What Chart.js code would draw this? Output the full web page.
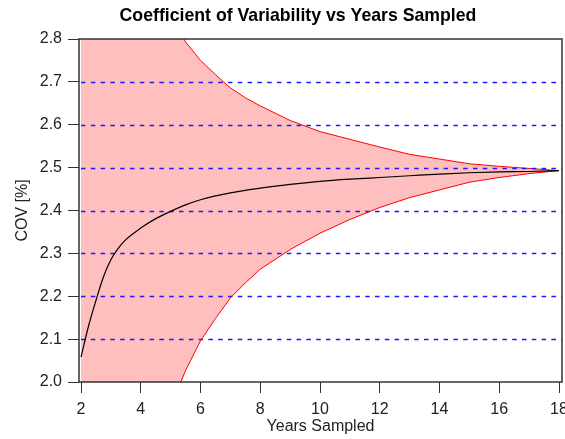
<!DOCTYPE html>
<html>
<head>
<meta charset="utf-8">
<script src="https://cdn.jsdelivr.net/npm/chart.js@4"></script>
<style>
  body { margin: 0; background: #fff; }
</style>
</head>
<body>
<canvas id="chart" width="565" height="439"></canvas>
<script>
// years sampled
const years = [2, 2.25, 2.5, 2.75, 3, 3.25, 3.5, 4, 4.5, 5, 5.5, 6, 6.5, 7, 7.5, 8, 9, 10, 11, 12, 13, 14, 15, 16, 17, 18];
// mean COV
const covMean = [2.058, 2.13, 2.19, 2.245, 2.285, 2.312, 2.332, 2.359, 2.381, 2.398, 2.413, 2.425, 2.434, 2.441, 2.447, 2.452, 2.461, 2.468, 2.473, 2.477, 2.481, 2.485, 2.488, 2.490, 2.491, 2.493];
// upper / lower bound
const covUpper = [4.6, 4.25, 3.9, 3.65, 3.45, 3.3, 3.18, 3.0, 2.92, 2.86, 2.793, 2.75, 2.717, 2.686, 2.663, 2.644, 2.61, 2.584, 2.566, 2.548, 2.531, 2.52, 2.509, 2.503, 2.498, 2.493];
const covLower = [-0.48, 0.0, 0.48, 0.84, 1.12, 1.32, 1.48, 1.72, 1.84, 1.94, 2.027, 2.096, 2.148, 2.196, 2.231, 2.263, 2.309, 2.347, 2.379, 2.407, 2.43, 2.448, 2.466, 2.477, 2.486, 2.493];

const xTicks = [2, 4, 6, 8, 10, 12, 14, 16, 18];
const yTicks = [2.0, 2.1, 2.2, 2.3, 2.4, 2.5, 2.6, 2.7, 2.8];
const refLines = [2.1, 2.2, 2.3, 2.4, 2.5, 2.6, 2.7];

const pts = (ys) => years.map((x, i) => ({ x: x, y: ys[i] }));

Chart.defaults.font.family = "'Liberation Sans', Arial, sans-serif";
Chart.defaults.font.size = 16;
Chart.defaults.color = "#111";

// dashed reference lines drawn over the band
const refLinePlugin = {
  id: "refLines",
  afterDatasetDraw(chart, args) {
    if (args.index !== 0) return;
    const { ctx, chartArea } = chart;
    const y = chart.scales.y;
    ctx.save();
    ctx.strokeStyle = "#1a1aff";
    ctx.lineWidth = 1.4;
    ctx.setLineDash([4.5, 5.3]);
    refLines.forEach((v) => {
      const py = Math.round(y.getPixelForValue(v)) + 0.5;
      ctx.beginPath();
      ctx.moveTo(chartArea.left + 2, py);
      ctx.lineTo(chartArea.right, py);
      ctx.stroke();
    });
    ctx.restore();
  },
};

// plot box and main title
const framePlugin = {
  id: "frame",
  afterDraw(chart) {
    const { ctx, chartArea } = chart;
    ctx.save();
    ctx.strokeStyle = "#333";
    ctx.lineWidth = 1.5;
    ctx.strokeRect(chartArea.left, chartArea.top, chartArea.right - chartArea.left, chartArea.bottom - chartArea.top);
    ctx.fillStyle = "#000";
    ctx.font = "bold 17.7px 'Liberation Sans', Arial, sans-serif";
    ctx.textAlign = "center";
    ctx.textBaseline = "middle";
    ctx.fillText("Coefficient of Variability vs Years Sampled", chart.width / 2 + 15.5, 16);
    ctx.restore();
  },
};

new Chart(document.getElementById("chart"), {
  type: "scatter",
  data: {
    datasets: [
      {
        label: "upper",
        data: pts(covUpper),
        showLine: true,
        borderColor: "#ff0000",
        borderWidth: 1,
        backgroundColor: "rgb(255,191,191)",
        fill: "+1",
        pointRadius: 0,
        order: 2,
      },
      {
        label: "lower",
        data: pts(covLower),
        showLine: true,
        borderColor: "#ff0000",
        borderWidth: 1,
        fill: false,
        pointRadius: 0,
        order: 1,
      },
      {
        label: "mean",
        data: pts(covMean),
        showLine: true,
        borderColor: "#000",
        borderWidth: 1.2,
        cubicInterpolationMode: "monotone",
        fill: false,
        pointRadius: 0,
        order: 0,
      },
    ],
  },
  options: {
    responsive: false,
    animation: false,
    layout: { padding: { top: 39, right: 3, left: 0, bottom: 0 } },
    plugins: {
      legend: { display: false },
      tooltip: { enabled: false },
      title: { display: false },
    },
    scales: {
      x: {
        type: "linear",
        min: 1.933,
        max: 18.1,
        afterBuildTicks: (s) => { s.ticks = xTicks.map((v) => ({ value: v })); },
        afterFit: (s) => { s.height = 57; s.paddingLeft = 0; s.paddingRight = 0; },
        ticks: { padding: 7, callback: (v) => String(v), color: "#222" },
        grid: { drawOnChartArea: false, drawTicks: true, tickLength: 11, tickColor: "#333" },
        border: { display: false },
        title: { display: true, text: "Years Sampled", color: "#222", padding: { top: 0, bottom: 3 } },
      },
      y: {
        type: "linear",
        min: 2.0,
        max: 2.8,
        afterBuildTicks: (s) => { s.ticks = yTicks.map((v) => ({ value: v })); },
        afterFit: (s) => { s.width = 79; s.paddingTop = 0; s.paddingBottom = 0; },
        ticks: { padding: 6, callback: (v) => v.toFixed(1), color: "#222" },
        grid: { drawOnChartArea: false, drawTicks: true, tickLength: 11, tickColor: "#333" },
        border: { display: false },
        title: { display: true, text: "COV [%]", color: "#222", padding: { top: 13, bottom: 0 } },
      },
    },
  },
  plugins: [refLinePlugin, framePlugin],
});
</script>
</body>
</html>
